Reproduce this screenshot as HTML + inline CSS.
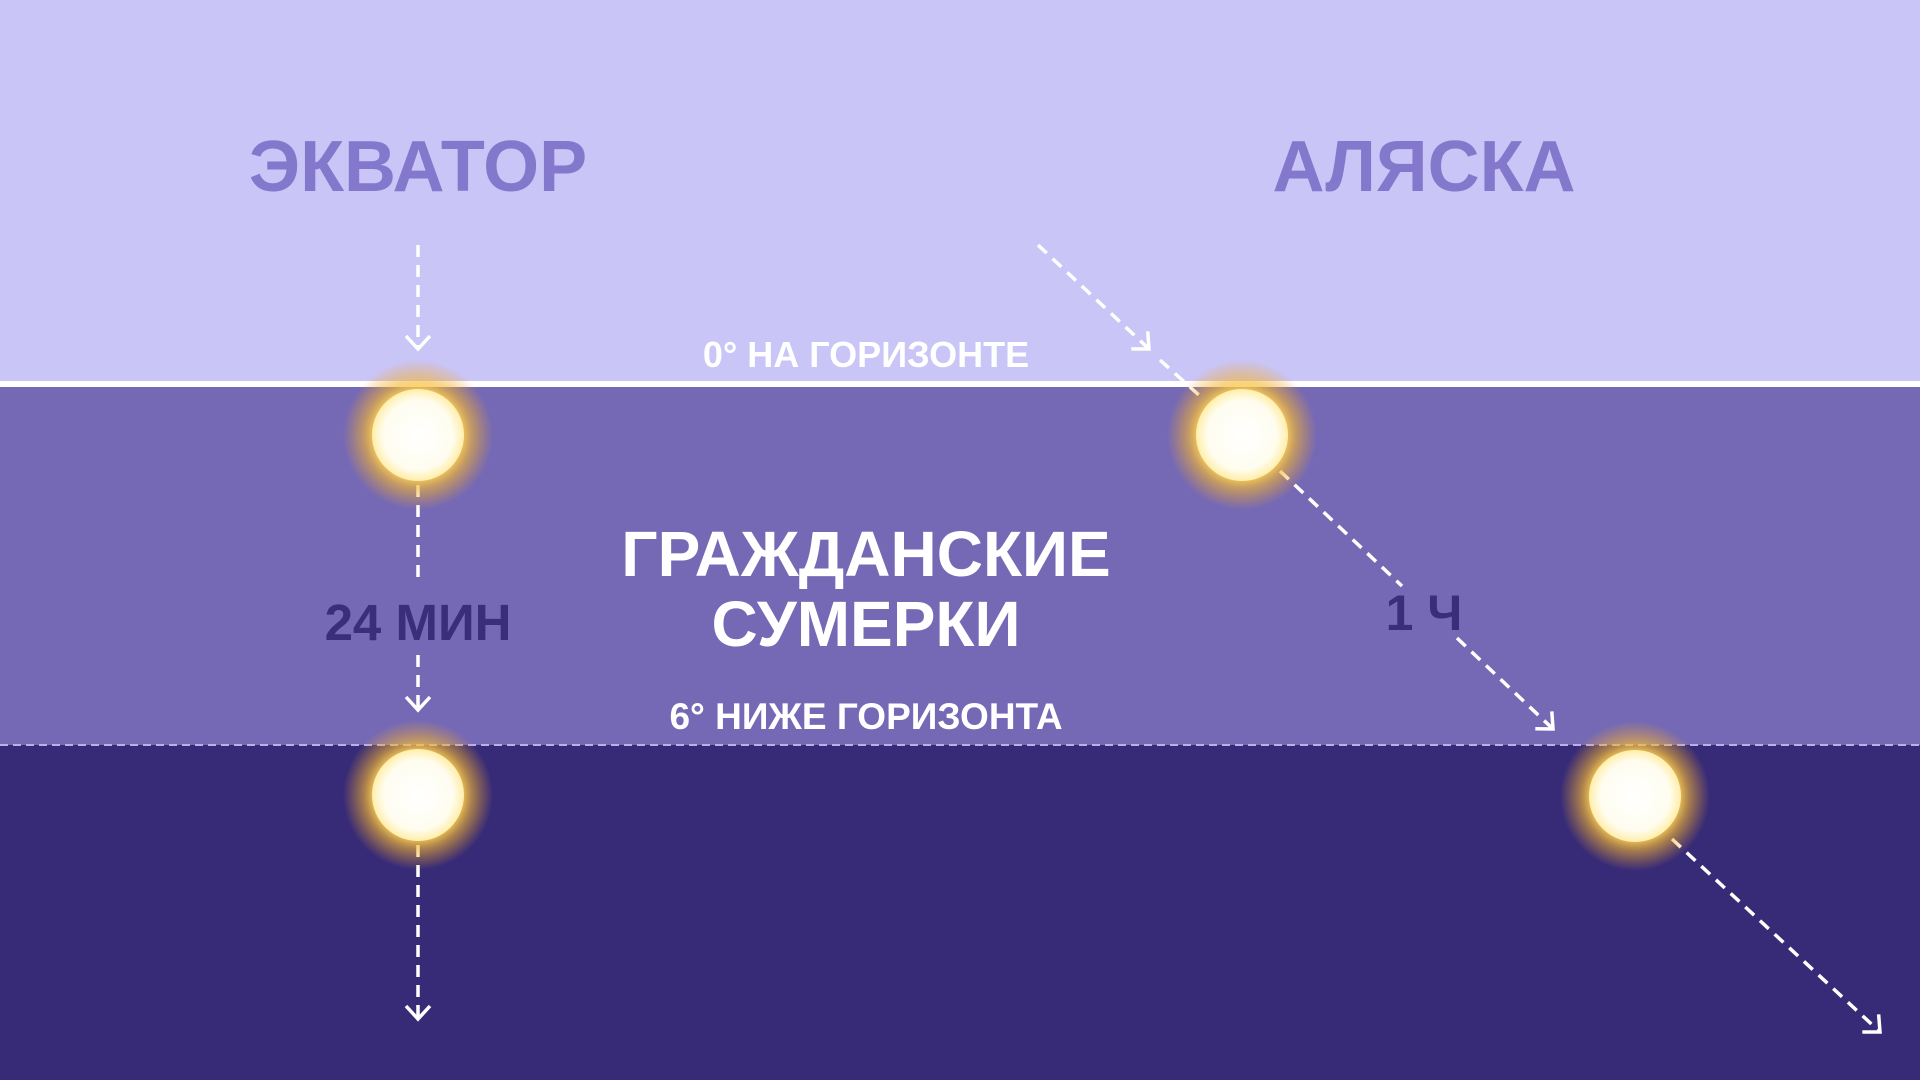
<!DOCTYPE html>
<html><head><meta charset="utf-8"><style>
html,body{margin:0;padding:0;width:1920px;height:1080px;overflow:hidden;background:#372b78}
svg{display:block}
text{font-family:"Liberation Sans","DejaVu Sans",sans-serif;font-weight:bold;text-anchor:middle}
</style></head><body>
<svg width="1920" height="1080" viewBox="0 0 1920 1080" xmlns="http://www.w3.org/2000/svg">
<defs>
<radialGradient id="glow">
<stop offset="0" stop-color="#fff6c0" stop-opacity="1"/>
<stop offset="0.55" stop-color="#ffd860" stop-opacity="1"/>
<stop offset="0.72" stop-color="#f5b830" stop-opacity="0.6"/>
<stop offset="1" stop-color="#f0a020" stop-opacity="0"/>
</radialGradient>
<radialGradient id="core">
<stop offset="0" stop-color="#ffffff"/>
<stop offset="0.75" stop-color="#fffdf0"/>
<stop offset="1" stop-color="#ffeeaa"/>
</radialGradient>
<marker id="ah" markerWidth="34" markerHeight="34" refX="17" refY="17" orient="auto" markerUnits="userSpaceOnUse">
<path d="M4,5 L17,17 L4,29" fill="none" stroke="#fff" stroke-width="3.5"/>
</marker>
</defs>
<rect x="0" y="0" width="1920" height="383" fill="#c9c5f7"/>
<rect x="0" y="383" width="1920" height="362" fill="#7569b5"/>
<rect x="0" y="745" width="1920" height="335" fill="#372b78"/>
<rect x="0" y="381" width="1920" height="6" fill="#fff"/>
<line x1="0" y1="745" x2="1920" y2="745" stroke="#b8b0e8" stroke-width="2" stroke-dasharray="8,5"/>

<text x="418" y="191" font-size="72" fill="#8478cc">ЭКВАТОР</text>
<text x="1424" y="191" font-size="72" fill="#8478cc">АЛЯСКА</text>
<text x="866" y="367" font-size="36" fill="#fff">0° НА ГОРИЗОНТЕ</text>
<text x="866" y="576" font-size="64" fill="#fff">ГРАЖДАНСКИЕ</text>
<text x="866" y="646" font-size="64" fill="#fff">СУМЕРКИ</text>
<text x="866" y="729" font-size="37" fill="#fff">6° НИЖЕ ГОРИЗОНТА</text>
<text x="418" y="640" font-size="51" fill="#3a2e7a">24 МИН</text>
<text x="1424" y="630" font-size="50" fill="#3a2e7a">1 Ч</text>

<g stroke="#fff" stroke-width="3.5" stroke-dasharray="12,8" fill="none">
<line x1="418" y1="245" x2="418" y2="349" marker-end="url(#ah)"/>
<line x1="418" y1="485" x2="418" y2="580"/>
<line x1="418" y1="655" x2="418" y2="710" marker-end="url(#ah)"/>
<line x1="418" y1="845" x2="418" y2="1019" marker-end="url(#ah)"/>
<line x1="1038" y1="245" x2="1149" y2="349" marker-end="url(#ah)"/>
<line x1="1160" y1="360" x2="1200" y2="396"/>
<line x1="1280" y1="471" x2="1402" y2="586"/>
<line x1="1457" y1="638" x2="1553" y2="729" marker-end="url(#ah)"/>
<line x1="1672" y1="839" x2="1880" y2="1032" marker-end="url(#ah)"/>
</g>

<g>
<circle cx="418" cy="435" r="75" fill="url(#glow)"/>
<circle cx="418" cy="435" r="46" fill="url(#core)"/>
<circle cx="418" cy="795" r="75" fill="url(#glow)"/>
<circle cx="418" cy="795" r="46" fill="url(#core)"/>
<circle cx="1242" cy="435" r="75" fill="url(#glow)"/>
<circle cx="1242" cy="435" r="46" fill="url(#core)"/>
<circle cx="1635" cy="796" r="75" fill="url(#glow)"/>
<circle cx="1635" cy="796" r="46" fill="url(#core)"/>
</g>
</svg>
</body></html>
